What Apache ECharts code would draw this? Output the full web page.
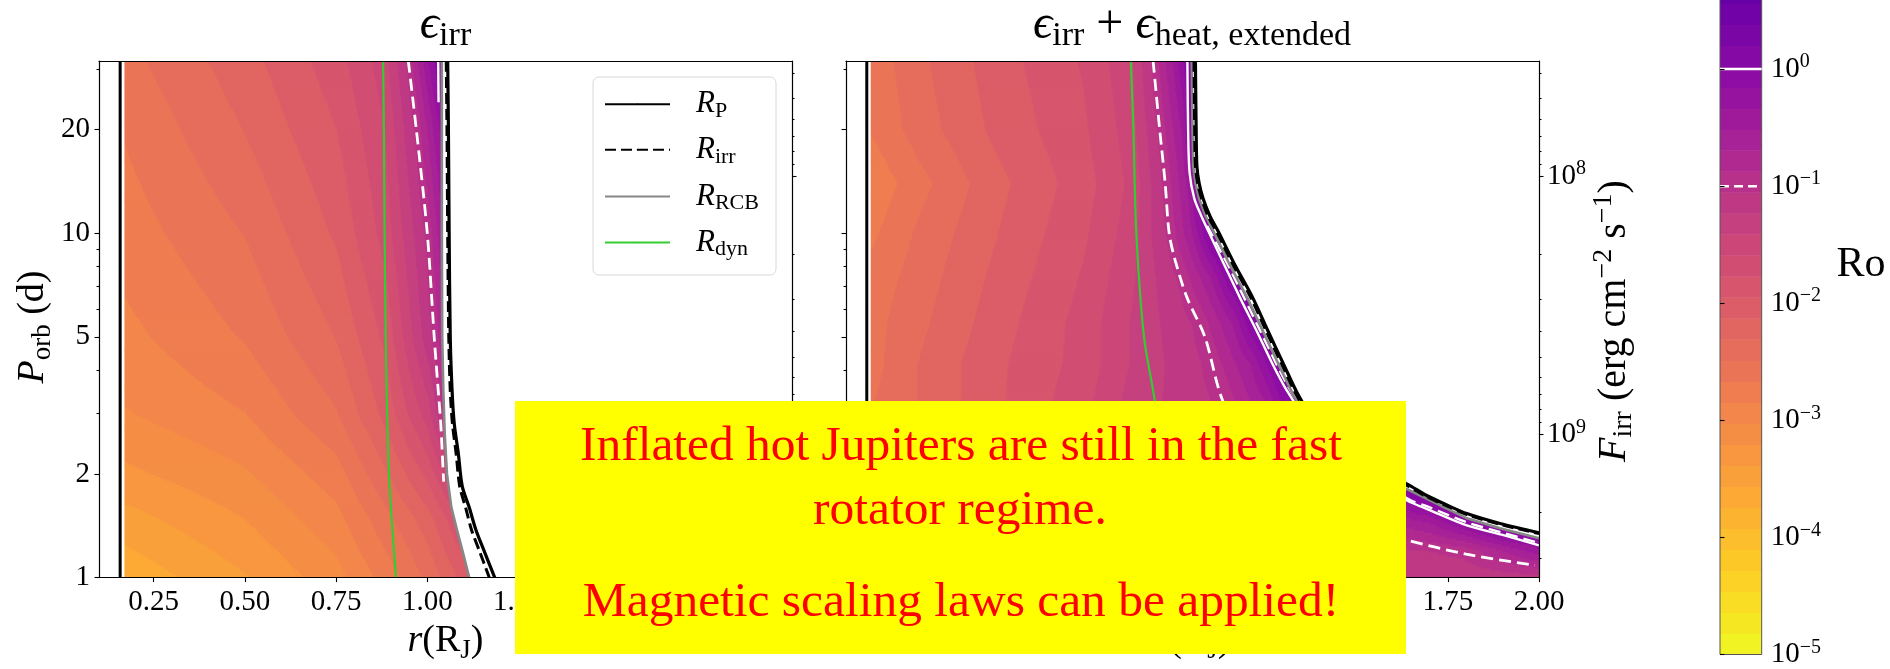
<!DOCTYPE html>
<html>
<head>
<meta charset="utf-8">
<script src="https://cdn.jsdelivr.net/npm/echarts@6/dist/echarts.min.js"></script>
<style>
  html, body { margin: 0; padding: 0; background: #fff; }
  #chart { width: 1890px; height: 669px; }
</style>
</head>
<body>
<div id="chart"></div>
<script>
// ---- axis ranges and ticks ----
const R_RANGE = [0.1, 2.0];
const P_RANGE = [1, 31.62];
const F_RANGE = [3.58e7, 3.58e9];
const RO_LOG_RANGE = [-5, 2];      // full colour-scale range of log10 Ro
const RO_CB_VISIBLE = [-5, 0.59];  // part of the colour bar inside the figure
const RO_LEVEL_COUNT = 39;

const X_TICKS = [0.25, 0.5, 0.75, 1.0, 1.25, 1.5, 1.75, 2.0];
const P_MAJOR = [1, 2, 5, 10, 20];
const P_MINOR = [3, 4, 6, 7, 8, 9, 30];
const F_MAJOR = [1e8, 1e9];
const F_MINOR = [4e7, 5e7, 6e7, 7e7, 8e7, 9e7, 2e8, 3e8, 4e8, 5e8, 6e8, 7e8, 8e8, 9e8, 2e9, 3e9];
const RO_TICK_EXP = [-5, -4, -3, -2, -1, 0];
const RO_SOLID = 0;    // log10 Ro of the solid white contour
const RO_DASHED = -1;  // log10 Ro of the dashed white contour

// ---- log10 Ro profiles, one row per orbital period: [r, log10 Ro] ----
const FIELD_L_P = [1, 1.5, 2, 3, 5, 10, 20, 31.62];
const FIELD_L_ROWS = [
  [[0.17, -3.7], [0.5, -3.4], [0.75, -3.1], [0.914, -2.7], [1.0, -2.45], [1.115, -2.0], [2.0, -2.0]],
  [[0.17, -3.45], [0.5, -3.2], [0.75, -2.9], [0.9, -2.5], [1.0, -2.2], [1.08, -1.8], [2.0, -1.8]],
  [[0.17, -3.25], [0.5, -3.05], [0.75, -2.75], [0.895, -2.3], [1.0, -1.9], [1.06, -1.5], [2.0, -1.5]],
  [[0.17, -3.04], [0.5, -2.85], [0.75, -2.5], [0.89, -2.05], [1.0, -1.5], [1.045, -1.0], [2.0, -1.0]],
  [[0.17, -2.9], [0.5, -2.65], [0.75, -2.3], [0.886, -1.9], [1.019, -1.0], [1.045, -0.7], [2.0, -0.7]],
  [[0.17, -2.76], [0.5, -2.48], [0.75, -2.1], [0.883, -1.7], [1.0, -1.0], [1.04, -0.55], [2.0, -0.55]],
  [[0.17, -2.65], [0.5, -2.3], [0.75, -1.95], [0.881, -1.6], [0.97, -1.0], [1.04, -0.25], [2.0, -0.25]],
  [[0.17, -2.55], [0.5, -2.2], [0.75, -1.85], [0.879, -1.5], [0.948, -1.0], [1.03, 0.0], [1.045, 0.2], [2.0, 0.2]]
];

const FIELD_R_P = [1, 1.2, 1.45, 1.8, 2.4, 3.3, 4.2, 5.5, 7.5, 10, 14, 20, 31.62];
const FIELD_R_ROWS = [
  [[0.17, -2.4], [0.5, -1.95], [0.88, -1.3], [1.5, -1.25], [2.0, -1.15]],
  [[0.17, -2.4], [0.5, -1.95], [0.88, -1.3], [1.5, -1.15], [1.79, -1.0], [2.0, -0.4]],
  [[0.17, -2.45], [0.5, -1.95], [0.88, -1.3], [1.4, -1.0], [1.7, -0.5], [1.83, 0.0], [1.92, 0.3], [2.0, 0.3]],
  [[0.17, -2.45], [0.5, -1.95], [0.88, -1.3], [1.33, -1.0], [1.55, -0.5], [1.62, 0.0], [1.67, 0.3], [2.0, 0.3]],
  [[0.17, -2.5], [0.5, -2.0], [0.75, -1.65], [0.88, -1.35], [1.2, -1.0], [1.36, -0.5], [1.43, 0.0], [1.48, 0.3], [2.0, 0.3]],
  [[0.17, -2.5], [0.3, -2.3], [0.5, -2.0], [0.75, -1.65], [0.88, -1.35], [1.135, -1.0], [1.25, -0.5], [1.31, 0.0], [1.35, 0.3], [2.0, 0.3]],
  [[0.17, -2.55], [0.3, -2.3], [0.5, -2.0], [0.75, -1.7], [0.88, -1.4], [1.1, -1.0], [1.21, -0.5], [1.27, 0.0], [1.31, 0.3], [2.0, 0.3]],
  [[0.17, -2.55], [0.3, -2.35], [0.5, -2.05], [0.75, -1.7], [0.88, -1.4], [1.07, -1.0], [1.16, -0.5], [1.21, 0.0], [1.25, 0.3], [2.0, 0.3]],
  [[0.17, -2.6], [0.3, -2.4], [0.5, -2.1], [0.75, -1.75], [0.88, -1.45], [1.02, -1.0], [1.1, -0.5], [1.15, 0.0], [1.19, 0.3], [2.0, 0.3]],
  [[0.17, -2.7], [0.3, -2.45], [0.5, -2.15], [0.75, -1.8], [0.88, -1.5], [0.986, -1.0], [1.05, -0.5], [1.09, 0.0], [1.12, 0.3], [2.0, 0.3]],
  [[0.17, -2.8], [0.3, -2.55], [0.5, -2.2], [0.75, -1.85], [0.88, -1.55], [0.975, -1.0], [1.04, -0.45], [1.06, 0.0], [1.09, 0.3], [2.0, 0.3]],
  [[0.17, -2.65], [0.3, -2.4], [0.5, -2.1], [0.75, -1.8], [0.88, -1.5], [0.96, -1.0], [1.02, -0.5], [1.045, 0.0], [1.07, 0.3], [2.0, 0.3]],
  [[0.17, -2.6], [0.3, -2.35], [0.5, -2.05], [0.75, -1.75], [0.88, -1.45], [0.942, -1.0], [1.0, -0.45], [1.035, 0.0], [1.06, 0.3], [2.0, 0.3]]
];

// ---- radii versus orbital period: [r (R_J), P_orb (d)] ----
// left panel: irradiation only
const CORE_L = [[0.158, 1], [0.158, 31.62]];
const RP_L = [[1.056, 31.62], [1.058, 20], [1.06, 10], [1.063, 5], [1.068, 3.5], [1.074, 2.8], [1.085, 2.3], [1.096, 1.84], [1.115, 1.6], [1.133, 1.38], [1.158, 1.18], [1.185, 1.0]];
const RIRR_L = [[1.052, 31.62], [1.054, 20], [1.056, 10], [1.059, 5], [1.063, 3.5], [1.069, 2.8], [1.079, 2.3], [1.089, 1.84], [1.105, 1.6], [1.121, 1.38], [1.145, 1.18], [1.17, 1.0]];
const RRCB_L = [[1.04, 31.62], [1.04, 10], [1.041, 5], [1.044, 3.5], [1.048, 2.6], [1.054, 2.0], [1.066, 1.6], [1.081, 1.38], [1.098, 1.18], [1.115, 1.0]];
const RDYN_L = [[0.879, 31.62], [0.881, 20], [0.883, 10], [0.886, 5], [0.89, 3], [0.895, 2], [0.902, 1.5], [0.914, 1.0]];
const RO1_L = [[1.03, 31.62], [1.031, 24]];
const RO01_L = [[0.948, 31.62], [0.97, 20], [1.0, 10], [1.019, 5], [1.03, 3.5], [1.037, 2.8], [1.042, 2.2], [1.045, 1.9]];

// right panel: irradiation plus extended heating
const CORE_R = [[0.157, 1], [0.157, 31.62]];
const RP_R = [[1.058, 31.62], [1.06, 20], [1.062, 15.7], [1.068, 14], [1.079, 12.6], [1.098, 11.2], [1.121, 10.1], [1.166, 8.1], [1.215, 6.5], [1.257, 5.2], [1.299, 4.18], [1.342, 3.36], [1.40, 2.69], [1.47, 2.29], [1.55, 2.04], [1.636, 1.875], [1.692, 1.731], [1.75, 1.62], [1.802, 1.534], [1.893, 1.436], [2.0, 1.35]];
const RIRR_R = [[1.054, 31.62], [1.056, 20], [1.058, 15.7], [1.064, 14], [1.075, 12.6], [1.093, 11.2], [1.116, 10.1], [1.161, 8.1], [1.21, 6.5], [1.252, 5.2], [1.294, 4.18], [1.337, 3.36], [1.395, 2.68], [1.465, 2.28], [1.545, 2.03], [1.632, 1.865], [1.69, 1.722], [1.75, 1.61], [1.802, 1.525], [1.893, 1.428], [2.0, 1.342]];
const RRCB_R = [[1.048, 31.62], [1.05, 20], [1.052, 15.7], [1.058, 14], [1.068, 12.6], [1.086, 11.2], [1.108, 10.1], [1.152, 8.1], [1.2, 6.5], [1.243, 5.2], [1.285, 4.18], [1.328, 3.36], [1.386, 2.69], [1.456, 2.29], [1.536, 2.04], [1.622, 1.84], [1.68, 1.72], [1.74, 1.6], [1.8, 1.49], [1.893, 1.39], [2.0, 1.30]];
const RDYN_R = [[0.881, 31.62], [0.888, 20], [0.896, 10], [0.917, 5], [0.946, 3.3], [0.96, 2.5], [0.975, 1.8], [0.99, 1.3], [1.0, 1.0]];
const RO1_R = [[1.036, 31.62], [1.038, 20], [1.042, 15], [1.055, 12.6], [1.073, 11.3], [1.1, 9.8], [1.137, 8.1], [1.18, 6.5], [1.226, 5.2], [1.268, 4.2], [1.308, 3.5], [1.37, 2.8], [1.44, 2.35], [1.52, 2.06], [1.6, 1.78], [1.638, 1.675], [1.7, 1.57], [1.8, 1.42], [1.9, 1.33], [2.0, 1.24]];
const RO01_R = [[0.942, 31.62], [0.96, 20], [0.975, 14], [0.986, 10], [1.003, 8.3], [1.035, 6.5], [1.084, 5.0], [1.131, 3.3], [1.2, 2.4], [1.33, 1.8], [1.45, 1.5], [1.55, 1.37], [1.638, 1.285], [1.8, 1.17], [1.989, 1.085]];
const RO01B_R = [[1.09, 10.5], [1.152, 7.9], [1.236, 5.2], [1.318, 3.5], [1.38, 2.85], [1.45, 2.4], [1.53, 2.1], [1.638, 1.70], [1.7, 1.6], [1.8, 1.45], [1.9, 1.35], [2.0, 1.26]];

// ---- annotation ----
const NOTE_LINES = ['Inflated hot Jupiters are still in the fast', 'rotator regime.', 'Magnetic scaling laws can be applied!'];

// ---- styling helpers ----
const SERIF = '"Liberation Serif", "DejaVu Serif", serif';
const PLASMA = ['#0d0887', '#41049d', '#6a00a8', '#8f0da4', '#b12a90', '#cc4778', '#e16462', '#f2844b', '#fca636', '#fcce25', '#f0f921'];

function hexRgb(h) { return [1, 3, 5].map(i => parseInt(h.substr(i, 2), 16)); }
function plasma(t) {
  t = Math.max(0, Math.min(1, t));
  const f = t * (PLASMA.length - 1);
  const i = Math.min(Math.floor(f), PLASMA.length - 2), w = f - i;
  const a = hexRgb(PLASMA[i]), b = hexRgb(PLASMA[i + 1]);
  return 'rgb(' + [0, 1, 2].map(k => Math.round(a[k] + (b[k] - a[k]) * w)).join(',') + ')';
}
const LV_STEP = (RO_LOG_RANGE[1] - RO_LOG_RANGE[0]) / RO_LEVEL_COUNT;
function levelOf(v) {
  const k = Math.floor((v - RO_LOG_RANGE[0]) / LV_STEP);
  return Math.max(0, Math.min(RO_LEVEL_COUNT - 1, k));
}
function levelColor(k) { return plasma(1 - (k + 0.5) / RO_LEVEL_COUNT); }

// rich-text styles: n normal, i italic, s subscript, p superscript
function richSet(M, LM, S, d, u) {
  const base = { fontFamily: SERIF, color: '#000' };
  return {
    n: Object.assign({ fontSize: M, lineHeight: LM }, base),
    i: Object.assign({ fontSize: M, lineHeight: LM, fontStyle: 'italic' }, base),
    s: Object.assign({ fontSize: S, lineHeight: LM - 0.68 * M - 2 * d + 0.68 * S, verticalAlign: 'bottom' }, base),
    p: Object.assign({ fontSize: S, lineHeight: LM + 0.68 * M - 2 * u - 0.68 * S, verticalAlign: 'top' }, base)
  };
}
const RICH_TICK = richSet(29, 34, 20, 5, 11);
const RICH_NAME = richSet(38, 46, 27, 6, 15);
const RICH_NAME_F = richSet(40, 48, 28, 6, 16);
const RICH_TITLE = richSet(48, 56, 34, 4, 0);
const RICH_LEG = richSet(31, 36, 22, 6, 0);

function powLabel(e) { return '{n|10}{p|' + (e < 0 ? '\u2212' + (-e) : String(e)) + '}'; }

// ---- field rendering (filled Ro contours) ----
function rowValue(pts, r) {
  if (r <= pts[0][0]) return pts[0][1];
  for (let k = 1; k < pts.length; k++) {
    if (r <= pts[k][0]) {
      const t = (r - pts[k - 1][0]) / (pts[k][0] - pts[k - 1][0]);
      return pts[k - 1][1] + t * (pts[k][1] - pts[k - 1][1]);
    }
  }
  return pts[pts.length - 1][1];
}
function fieldRenderer(Ps, rows, rStart) {
  const lps = Ps.map(p => Math.log10(p));
  function valueAt(r, lp) {
    let k = 0;
    while (k < lps.length - 2 && lp > lps[k + 1]) k++;
    const t = Math.max(0, Math.min(1, (lp - lps[k]) / (lps[k + 1] - lps[k])));
    return rowValue(rows[k], r) * (1 - t) + rowValue(rows[k + 1], r) * t;
  }
  return function (params, api) {
    const children = [];
    const lp0 = Math.log10(P_RANGE[0]), lp1 = Math.log10(P_RANGE[1]);
    const NY = 260, NX = 700, r1 = R_RANGE[1];
    for (let i = 0; i < NY; i++) {
      const la = lp0 + (lp1 - lp0) * i / NY, lb = lp0 + (lp1 - lp0) * (i + 1) / NY, lm = (la + lb) / 2;
      const yB = api.coord([rStart, Math.pow(10, la)])[1];
      const yT = api.coord([rStart, Math.pow(10, lb)])[1];
      let runR = rStart, runL = levelOf(valueAt(rStart, lm));
      for (let j = 1; j <= NX; j++) {
        const r = rStart + (r1 - rStart) * j / NX;
        const L = j < NX ? levelOf(valueAt(r, lm)) : -1;
        if (L !== runL) {
          const xa = api.coord([runR, 1])[0], xb = api.coord([r, 1])[0];
          children.push({ type: 'rect', shape: { x: xa, y: yT, width: xb - xa + 0.8, height: yB - yT + 0.8 }, style: { fill: levelColor(runL) } });
          runR = r; runL = L;
        }
      }
    }
    return { type: 'group', children: children, silent: true };
  };
}
function maskRenderer(curve, tail) {
  return function (params, api) {
    const pts = curve.concat(tail).map(p => api.coord(p));
    return { type: 'polygon', shape: { points: pts }, style: { fill: '#fff' }, silent: true };
  };
}
function colorbarRenderer(params, api) {
  const children = [];
  const top = RO_CB_VISIBLE[1];
  for (let k = 0; k < RO_LEVEL_COUNT; k++) {
    const lo = RO_LOG_RANGE[0] + k * LV_STEP;
    if (lo >= top) break;
    const hi = Math.min(lo + LV_STEP, top);
    const p0 = api.coord([0, lo]), p1 = api.coord([1, hi]);
    children.push({ type: 'rect', shape: { x: p0[0], y: p1[1], width: p1[0] - p0[0], height: p0[1] - p1[1] + 0.6 }, style: { fill: levelColor(k) } });
  }
  const a = api.coord([0, RO_CB_VISIBLE[0]]), b = api.coord([1, top]);
  children.push({ type: 'rect', shape: { x: a[0], y: b[1] - 2, width: b[0] - a[0], height: a[1] - b[1] + 2 }, style: { fill: 'none', stroke: '#555', lineWidth: 1 } });
  return { type: 'group', children: children, silent: true };
}

// ---- axes ----
const SPINE = { show: true, onZero: false, lineStyle: { color: '#000', width: 1.2 } };
const TICK_STYLE = { color: '#000', width: 1.1 };

function xBottom(grid) {
  return {
    type: 'value', gridIndex: grid, position: 'bottom', min: R_RANGE[0], max: R_RANGE[1], z: 10,
    axisLine: SPINE,
    axisTick: { show: true, customValues: X_TICKS, length: 4.5, lineStyle: TICK_STYLE },
    axisLabel: { show: true, customValues: X_TICKS, margin: 8, formatter: v => '{n|' + v.toFixed(2) + '}', rich: RICH_TICK },
    splitLine: { show: false },
    name: '{i|r}{n|(R}{s|J}{n|)}', nameLocation: 'middle', nameGap: 37, nameTextStyle: { rich: RICH_NAME }
  };
}
function xTop(grid) {
  return {
    type: 'value', gridIndex: grid, position: 'top', min: R_RANGE[0], max: R_RANGE[1], z: 10,
    axisLine: SPINE, axisTick: { show: false }, axisLabel: { show: false }, splitLine: { show: false }
  };
}
function pAxis(grid, major, withLabels) {
  const ax = {
    type: 'log', logBase: 10, gridIndex: grid, position: 'left', min: P_RANGE[0], max: P_RANGE[1], z: 10,
    axisLine: major ? SPINE : { show: false },
    axisTick: { show: true, customValues: major ? P_MAJOR : P_MINOR, length: major ? 4.5 : 2.5, lineStyle: TICK_STYLE },
    axisLabel: { show: false },
    splitLine: { show: false }, minorTick: { show: false }
  };
  if (withLabels) {
    ax.axisLabel = { show: true, customValues: P_MAJOR, margin: 9, formatter: v => '{n|' + Math.round(v) + '}', rich: RICH_TICK };
  }
  return ax;
}
function fAxis(grid, major, withLabels) {
  const ax = {
    type: 'log', logBase: 10, gridIndex: grid, position: 'right', inverse: true, min: F_RANGE[0], max: F_RANGE[1], z: 10,
    axisLine: major ? SPINE : { show: false },
    axisTick: { show: true, customValues: major ? F_MAJOR : F_MINOR, length: major ? 4.5 : 2.5, lineStyle: TICK_STYLE },
    axisLabel: { show: false },
    splitLine: { show: false }, minorTick: { show: false }
  };
  if (withLabels) {
    ax.axisLabel = { show: true, customValues: F_MAJOR, margin: 8, formatter: v => powLabel(Math.round(Math.log10(v))), rich: RICH_TICK };
  }
  return ax;
}

// ---- series ----
function curve(name, data, xi, yi, color, width, type, z, smooth) {
  return {
    type: 'line', name: name, data: data, xAxisIndex: xi, yAxisIndex: yi,
    symbol: 'none', showSymbol: false, smooth: smooth || false, clip: true, silent: true,
    lineStyle: { color: color, width: width, type: type }, itemStyle: { color: color }, z: z
  };
}
const BLACK_DASH = [11, 5];
const WHITE_DASH = [12, 6];
const GREEN = '#32cd32';
const GRAY = '#878787';
const SMOOTH = 0.3;

function panelSeries(xi, yi, field, mask, c) {
  return [
    { type: 'custom', xAxisIndex: xi, yAxisIndex: yi, data: [[1, 1]], renderItem: field, clip: true, silent: true, z: 1 },
    { type: 'custom', xAxisIndex: xi, yAxisIndex: yi, data: [[1, 1]], renderItem: mask, clip: true, silent: true, z: 2 },
    curve('core', c.core, xi, yi, '#000', 3, 'solid', 3),
    curve('R_dyn', c.dyn, xi, yi, GREEN, 2.2, 'solid', 3, SMOOTH),
    curve('Ro_01', c.ro01, xi, yi, '#fff', 2.8, WHITE_DASH, 3, SMOOTH),
    curve('Ro_1', c.ro1, xi, yi, '#fff', 2.4, 'solid', 3, SMOOTH),
    curve('R_RCB', c.rcb, xi, yi, GRAY, 2.6, 'solid', 4),
    curve('R_P', c.rp, xi, yi, '#000', 3.2, 'solid', 4, SMOOTH),
    curve('R_irr', c.irr, xi, yi, '#000', 3.0, BLACK_DASH, 5, SMOOTH)
  ];
}

const series = []
  .concat(panelSeries(0, 0, fieldRenderer(FIELD_L_P, FIELD_L_ROWS, 0.17), maskRenderer(RRCB_L, [[2.0, 1.0], [2.0, 31.62]]),
    { core: CORE_L, dyn: RDYN_L, ro01: RO01_L, ro1: RO1_L, rcb: RRCB_L, rp: RP_L, irr: RIRR_L }))
  .concat(panelSeries(2, 4, fieldRenderer(FIELD_R_P, FIELD_R_ROWS, 0.168), maskRenderer(RRCB_R, [[2.0, 31.62]]),
    { core: CORE_R, dyn: RDYN_R, ro01: RO01_R, ro1: RO1_R, rcb: RRCB_R, rp: RP_R, irr: RIRR_R }))
  .concat([
    curve('Ro_01', RO01B_R, 2, 4, '#fff', 2.4, WHITE_DASH, 3, SMOOTH),
    { type: 'custom', xAxisIndex: 4, yAxisIndex: 8, data: [[0.5, 0]], renderItem: colorbarRenderer, clip: false, silent: true, z: 1 },
    curve('cb_solid', [[0, RO_SOLID], [1, RO_SOLID]], 4, 8, '#fff', 2.5, 'solid', 3),
    curve('cb_dashed', [[0, RO_DASHED], [1, RO_DASHED]], 4, 8, '#fff', 2.5, [9, 5], 3)
  ]);

// ---- annotation sizing ----
const NOTE_FONT = '48px "Liberation Serif"';
const mctx = document.createElement('canvas').getContext('2d');
mctx.font = NOTE_FONT;
const NOTE_SCALE = 762 / mctx.measureText(NOTE_LINES[0]).width;
const NOTE_Y = [447.2, 511.3, 603.1];

// ---- legend: one row per radius, inside a shared frame ----
const LEGEND_NAMES = ['R_P', 'R_irr', 'R_RCB', 'R_dyn'];
const LEGEND_TEXT = { R_P: '{i|R}{s|P}', R_irr: '{i|R}{s|irr}', R_RCB: '{i|R}{s|RCB}', R_dyn: '{i|R}{s|dyn}' };
const LEGEND_ROW_Y = [101.7, 147.3, 194, 240];
const legends = LEGEND_NAMES.map((name, k) => ({
  data: [name], orient: 'vertical', left: 604, top: LEGEND_ROW_Y[k] - 13,
  itemWidth: 65, itemHeight: 2, padding: 0,
  formatter: n => LEGEND_TEXT[n],
  textStyle: { rich: RICH_LEG, padding: [0, 0, 0, 21] },
  selectedMode: false, z: 20
}));

const option = {
  animation: false,
  backgroundColor: '#fff',
  grid: [
    { left: 99, top: 61, width: 693, height: 522, containLabel: false },
    { left: 846, top: 61, width: 693, height: 522, containLabel: false },
    { left: 1720, top: 0, width: 41.7, height: 658.3, containLabel: false }
  ],
  xAxis: [
    xBottom(0), xTop(0), xBottom(1), xTop(1),
    { type: 'value', gridIndex: 2, min: 0, max: 1, show: false }
  ],
  yAxis: [
    pAxis(0, true, true), pAxis(0, false, false), fAxis(0, true, false), fAxis(0, false, false),
    pAxis(1, true, false), pAxis(1, false, false), fAxis(1, true, true), fAxis(1, false, false),
    {
      type: 'value', gridIndex: 2, position: 'right', min: RO_CB_VISIBLE[0], max: RO_CB_VISIBLE[1], z: 10,
      axisLine: { show: false },
      axisTick: { show: true, customValues: RO_TICK_EXP, length: 4.5, lineStyle: TICK_STYLE },
      axisLabel: { show: true, customValues: RO_TICK_EXP, margin: 9, formatter: v => powLabel(Math.round(v)), rich: RICH_TICK },
      splitLine: { show: false }
    }
  ],
  legend: legends,
  series: series,
  graphic: [
    { type: 'rect', z: 15, shape: { x: 593, y: 77, width: 183, height: 198, r: 6 }, style: { fill: 'rgba(255,255,255,0.9)', stroke: '#d8d8d8', lineWidth: 1 } },
    { type: 'text', x: 445.5, y: 25, z: 50, style: { text: '{i|\u03f5}{s|irr}', rich: RICH_TITLE, align: 'center', verticalAlign: 'middle' } },
    { type: 'text', x: 1192, y: 25, z: 50, style: { text: '{i|\u03f5}{s|irr}{n| + }{i|\u03f5}{s|heat, extended}', rich: RICH_TITLE, align: 'center', verticalAlign: 'middle' } },
    // rotated axis titles
    { type: 'text', x: 33, y: 327, rotation: Math.PI / 2, z: 50, style: { text: '{i|P}{s|orb}{n| (d)}', rich: RICH_NAME, align: 'center', verticalAlign: 'middle' } },
    { type: 'text', x: 1614, y: 321, rotation: Math.PI / 2, z: 50, style: { text: '{i|F}{s|irr}{n| (erg cm}{p|\u22122}{n| s}{p|\u22121}{n|)}', rich: RICH_NAME_F, align: 'center', verticalAlign: 'middle' } },
    { type: 'text', x: 1861, y: 265, z: 50, style: { text: 'Ro', font: '42px ' + SERIF, fill: '#000', align: 'center', verticalAlign: 'middle' } },
    { type: 'rect', z: 100, shape: { x: 515, y: 401, width: 891, height: 253 }, style: { fill: '#ffff00' } },
    { type: 'text', z: 101, x: 961, y: NOTE_Y[0], scaleX: NOTE_SCALE, style: { text: NOTE_LINES[0], font: NOTE_FONT, fill: '#ff0000', align: 'center', verticalAlign: 'middle' } },
    { type: 'text', z: 101, x: 960, y: NOTE_Y[1], scaleX: NOTE_SCALE, style: { text: NOTE_LINES[1], font: NOTE_FONT, fill: '#ff0000', align: 'center', verticalAlign: 'middle' } },
    { type: 'text', z: 101, x: 961, y: NOTE_Y[2], scaleX: NOTE_SCALE, style: { text: NOTE_LINES[2], font: NOTE_FONT, fill: '#ff0000', align: 'center', verticalAlign: 'middle' } }
  ]
};

const chart = echarts.init(document.getElementById('chart'), null, { renderer: 'canvas', width: 1890, height: 669 });
chart.setOption(option);
</script>
</body>
</html>
